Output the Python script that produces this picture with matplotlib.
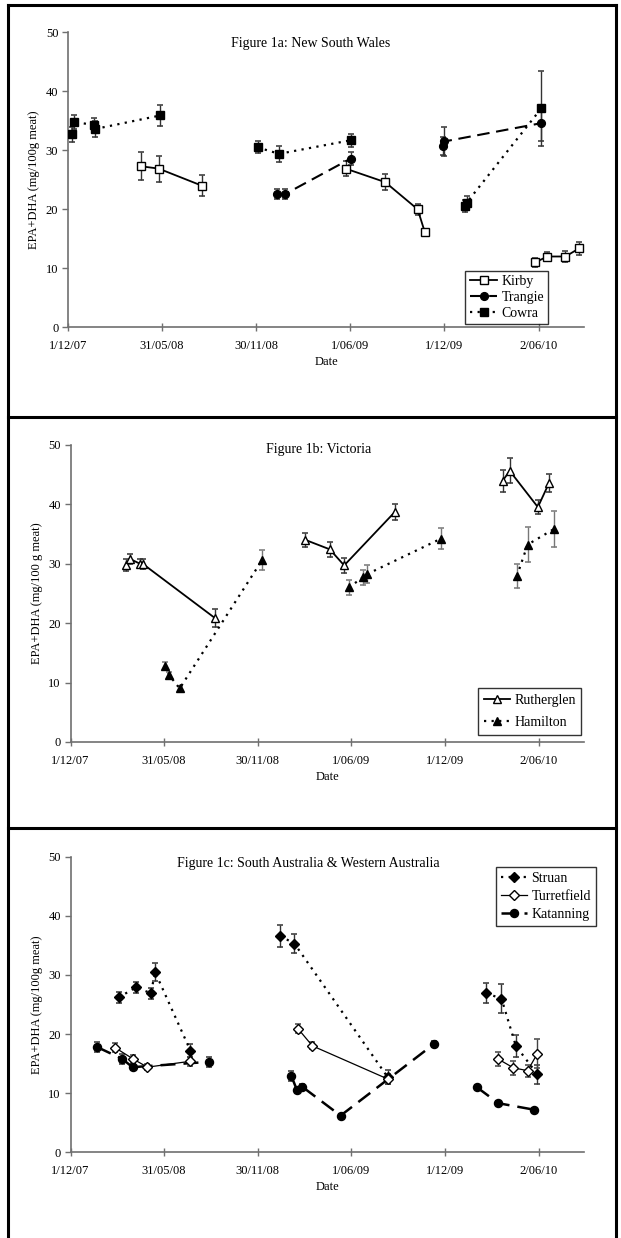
import matplotlib
matplotlib.use("Agg")
import matplotlib.pyplot as plt
import pandas as pd
from matplotlib.lines import Line2D

plt.rcParams['font.family'] = ['Liberation Serif', 'DejaVu Serif']

# shared x axis
tick_dates = ["2007-12-01", "2008-05-31", "2008-11-30", "2009-06-01", "2009-12-01", "2010-06-02"]
tick_labels = ["1/12/07", "31/05/08", "30/11/08", "1/06/09", "1/12/09", "2/06/10"]
x_start = "2007-12-01"
x_end = "2010-08-29"
y_ticks = [0, 10, 20, 30, 40, 50]

# Figure 1a: New South Wales
kirby_dates = ["2008-04-20", "2008-05-25", "2008-08-17", "2009-05-23", "2009-08-08", "2009-10-10",
               "2009-10-24", "2010-05-26", "2010-06-19", "2010-07-24", "2010-08-20"]
kirby_vals = [27.3, 26.9, 24.0, 26.9, 24.6, 20.0, 16.1, 11.0, 12.0, 12.0, 13.4]
kirby_err = [2.4, 2.2, 1.8, 1.3, 1.3, 0.9, 0.6, 0.7, 0.8, 0.9, 1.1]
kirby_seg = [0, 0, 0, 1, 1, 1, 1, 2, 2, 2, 2]

trangie_dates = ["2009-01-10", "2009-01-26", "2009-06-02", "2009-11-28", "2009-12-01", "2010-06-07"]
trangie_vals = [22.6, 22.6, 28.6, 30.7, 31.5, 34.6]
trangie_err = [0.8, 0.8, 1.1, 1.5, 2.4, 3.0]
trangie_seg = [0, 0, 0, 1, 1, 1]

cowra_dates = ["2007-12-09", "2007-12-12", "2008-01-21", "2008-01-22", "2008-05-28", "2008-12-03",
               "2009-01-14", "2009-06-02", "2010-01-10", "2010-01-13", "2010-06-07"]
cowra_vals = [32.7, 34.8, 34.3, 33.6, 35.9, 30.5, 29.4, 31.7, 20.6, 21.1, 37.1]
cowra_err = [1.3, 1.2, 1.2, 1.3, 1.8, 1.0, 1.3, 1.1, 1.0, 1.2, 6.4]
cowra_seg = [0, 0, 0, 0, 0, 1, 1, 1, 2, 2, 2]

# Figure 1b: Victoria
ruth_dates = ["2008-03-18", "2008-03-26", "2008-04-14", "2008-04-21", "2008-09-07", "2009-03-03",
              "2009-04-20", "2009-05-18", "2009-08-25", "2010-03-23", "2010-04-06", "2010-05-31",
              "2010-06-22"]
ruth_vals = [29.8, 30.8, 30.0, 29.9, 20.9, 34.0, 32.4, 29.7, 38.7, 43.9, 45.6, 39.5, 43.6]
ruth_err = [1.0, 0.8, 0.8, 0.8, 1.5, 1.2, 1.3, 1.2, 1.4, 1.8, 2.1, 1.2, 1.5]
ruth_seg = [0, 0, 0, 0, 0, 1, 1, 1, 1, 2, 2, 2, 2]

ham_dates = ["2008-06-03", "2008-06-11", "2008-07-01", "2008-12-09", "2009-05-27", "2009-06-24",
             "2009-07-01", "2009-11-23", "2010-04-20", "2010-05-11", "2010-07-01"]
ham_vals = [12.8, 11.2, 9.0, 30.6, 26.0, 27.7, 28.2, 34.2, 27.9, 33.2, 35.8]
ham_err = [0.7, 0.5, 0.5, 1.7, 1.2, 1.3, 1.5, 1.8, 2.0, 2.9, 3.0]
ham_seg = [0, 0, 0, 0, 1, 1, 1, 1, 2, 2, 2]

# Figure 1c: South Australia & Western Australia
struan_dates = ["2008-03-04", "2008-04-07", "2008-05-06", "2008-05-14", "2008-07-22", "2009-01-13",
                "2009-02-10", "2009-08-11", "2010-02-19", "2010-03-21", "2010-04-18", "2010-05-30"]
struan_vals = [26.2, 27.9, 26.9, 30.5, 17.2, 36.6, 35.3, 12.7, 26.9, 26.0, 18.0, 13.2]
struan_err = [0.9, 0.9, 0.9, 1.6, 1.1, 1.9, 1.6, 1.2, 1.7, 2.5, 1.9, 1.6]
struan_seg = [0, 0, 0, 0, 0, 1, 1, 1, 2, 2, 2, 2]

turret_dates = ["2008-02-26", "2008-04-01", "2008-04-29", "2008-07-22", "2009-02-17", "2009-03-17",
                "2009-08-11", "2010-03-14", "2010-04-13", "2010-05-11", "2010-05-30"]
turret_vals = [17.7, 15.8, 14.4, 15.4, 20.9, 18.0, 12.4, 15.8, 14.3, 13.8, 16.7]
turret_err = [0.8, 0.7, 0.5, 0.8, 0.8, 0.6, 0.8, 1.2, 1.2, 1.0, 2.4]
turret_seg = [0, 0, 0, 0, 1, 1, 1, 2, 2, 2, 2]

kat_dates = ["2008-01-22", "2008-03-11", "2008-03-31", "2008-08-28", "2009-02-04", "2009-02-15",
             "2009-02-25", "2009-05-11", "2009-11-09", "2010-02-01", "2010-03-15", "2010-05-24"]
kat_vals = [17.8, 15.8, 14.4, 15.3, 12.9, 10.5, 11.1, 6.2, 18.3, 11.0, 8.3, 7.2]
kat_err = [0.9, 0.8, 0.5, 0.8, 0.9, 0.4, 0.5, 0.3, 0.5, 0.3, 0.3, 0.3]
kat_seg = [0, 0, 0, 0, 1, 1, 1, 1, 1, 2, 2, 2]

W, H = 621, 1238
BLUE = "#2a2aa0"
AXCOL = "#707070"

fig = plt.figure(figsize=(W / 100, H / 100), dpi=100)


def fx(px):
    return px / W


def fy(py):
    return 1 - py / H


# panel frames
for x0, y0, x1, y1 in [(8, 5, 616, 5), (8, 417, 616, 417), (8, 828, 616, 828),
                       (8, 5, 8, H), (616, 5, 616, H)]:
    fig.add_artist(Line2D([fx(x0), fx(x1)], [fy(y0), fy(y1)], transform=fig.transFigure,
                          color="black", lw=2.2))


def series(ax, dates, vals, err, seg, label, marker, mfc, ms, ls, lw, capcol, barcol):
    d = pd.to_datetime(pd.Series(dates))
    v = pd.Series(vals)
    e = pd.Series(err)
    s = pd.Series(seg)
    eb = ax.errorbar(d, v, yerr=e, fmt="none", ecolor=barcol, elinewidth=1.0,
                     capsize=2.4, capthick=1.1, zorder=2)
    for cap in eb[1]:
        cap.set_color(capcol)
    for k in sorted(s.unique()):
        m = s == k
        ax.plot(d[m], v[m], linestyle=ls, color="black", lw=lw, zorder=3)
    ax.plot(d, v, linestyle="none", marker=marker, ms=ms, mfc=mfc, mec="black", mew=1.0, zorder=4)
    # legend handle
    return Line2D([], [], linestyle=ls, color="black", lw=lw, marker=marker, ms=ms,
                  mfc=mfc, mec="black", mew=1.0, label=label)


def setup(ax, title, tx, ty, ylabel):
    ax.set_xlim(pd.Timestamp(x_start), pd.Timestamp(x_end))
    ax.set_ylim(0, 50)
    ax.set_xticks(pd.to_datetime(pd.Series(tick_dates)))
    ax.set_xticklabels(tick_labels)
    ax.set_yticks(y_ticks)
    for sp in ["top", "right"]:
        ax.spines[sp].set_visible(False)
    for sp in ["left", "bottom"]:
        ax.spines[sp].set_color(AXCOL)
        ax.spines[sp].set_linewidth(1.2)
    ax.tick_params(axis="x", direction="inout", length=6, width=1, color=AXCOL,
                   labelsize=9, pad=6)
    ax.tick_params(axis="y", direction="out", length=4, width=1, color=AXCOL,
                   labelsize=9, pad=3)
    ax.set_xlabel("Date", fontsize=9, labelpad=3)
    ax.set_ylabel(ylabel, fontsize=9, labelpad=4)
    ax.text(tx, ty, title, transform=ax.transAxes, ha="center", va="center", fontsize=10)
    ax.patch.set_alpha(0)


dotted = (0, (1.0, 2.4))
dashed = (0, (6, 3.2))

# ---- Figure 1a
ax1 = fig.add_axes([fx(68), fy(327.3), fx(584) - fx(68), fy(32.3) - fy(327.3)])
setup(ax1, "Figure 1a: New South Wales", 0.471, 0.963, "EPA+DHA (mg/100g meat)")
h_k = series(ax1, kirby_dates, kirby_vals, kirby_err, kirby_seg, "Kirby", "s", "white", 5.2,
             "-", 1.3, BLUE, "#333333")
h_t = series(ax1, trangie_dates, trangie_vals, trangie_err, trangie_seg, "Trangie", "o", "black",
             5.6, dashed, 1.5, "black", "#333333")
h_c = series(ax1, cowra_dates, cowra_vals, cowra_err, cowra_seg, "Cowra", "s", "black", 5.2,
             dotted, 1.6, "black", "#333333")
leg = ax1.legend(handles=[h_k, h_t, h_c], loc="lower right", bbox_to_anchor=(0.931, 0.011),
                 fontsize=10, frameon=True, fancybox=False, edgecolor="black", handlelength=2.0,
                 handletextpad=0.3, labelspacing=0.2, borderpad=0.3, borderaxespad=0)
leg.get_frame().set_linewidth(1.0)

# ---- Figure 1b
ax2 = fig.add_axes([fx(70.5), fy(742), fx(584) - fx(70.5), fy(444.7) - fy(742)])
setup(ax2, "Figure 1b: Victoria", 0.4835, 0.9855, "EPA+DHA (mg/100 g meat)")
h_r = series(ax2, ruth_dates, ruth_vals, ruth_err, ruth_seg, "Rutherglen", "^", "white", 6.2,
             "-", 1.3, BLUE, "#333333")
h_h = series(ax2, ham_dates, ham_vals, ham_err, ham_seg, "Hamilton", "^", "black", 6.2,
             dotted, 1.6, "#222222", "#777777")
leg = ax2.legend(handles=[h_r, h_h], loc="lower right", bbox_to_anchor=(0.995, 0.024),
                 fontsize=10, frameon=True, fancybox=False, edgecolor="black", handlelength=1.9,
                 handletextpad=0.3, labelspacing=0.7, borderpad=0.4, borderaxespad=0)
leg.get_frame().set_linewidth(1.0)

# ---- Figure 1c
ax3 = fig.add_axes([fx(70.5), fy(1152.3), fx(584) - fx(70.5), fy(856.7) - fy(1152.3)])
setup(ax3, "Figure 1c: South Australia & Western Australia", 0.4625, 0.978,
      "EPA+DHA (mg/100g meat)")
h_s = series(ax3, struan_dates, struan_vals, struan_err, struan_seg, "Struan", "D", "black", 4.6,
             dotted, 1.6, BLUE, "#333333")
h_tu = series(ax3, turret_dates, turret_vals, turret_err, turret_seg, "Turretfield", "D", "white",
              4.6, "-", 0.9, "black", "#444444")
h_ka = series(ax3, kat_dates, kat_vals, kat_err, kat_seg, "Katanning", "o", "black", 5.8,
              dashed, 1.8, "black", "#333333")
leg = ax3.legend(handles=[h_s, h_tu, h_ka], loc="upper right", bbox_to_anchor=(1.023, 0.964),
                 fontsize=10, frameon=True, fancybox=False, edgecolor="black", handlelength=1.9,
                 handletextpad=0.3, labelspacing=0.35, borderpad=0.35, borderaxespad=0)
leg.get_frame().set_linewidth(1.0)

fig.savefig("out.png", dpi=100)
